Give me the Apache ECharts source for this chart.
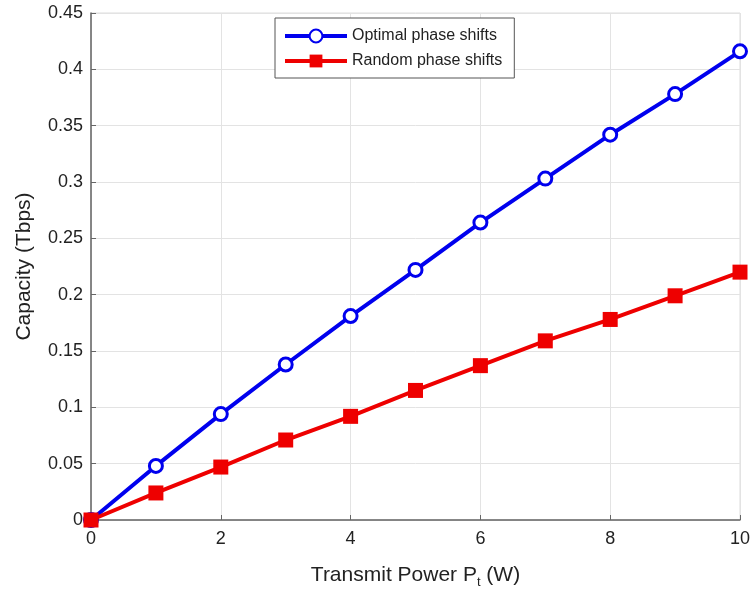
<!DOCTYPE html>
<html>
<head>
<meta charset="utf-8">
<script src="https://cdn.jsdelivr.net/npm/echarts@6/dist/echarts.min.js"></script>
<style>
  html, body { margin: 0; padding: 0; background: #fff; }
  #chart { width: 751px; height: 590px; }
</style>
</head>
<body>
<div id="chart"></div>
<script>
// transmit power (W)
const power = [0, 1, 2, 3, 4, 5, 6, 7, 8, 9, 10]
// capacity (Tbps)
const optimalCap = [0, 0.048, 0.094, 0.138, 0.181, 0.222, 0.264, 0.303, 0.342, 0.378, 0.416]
const randomCap = [0, 0.024, 0.047, 0.071, 0.092, 0.115, 0.137, 0.159, 0.178, 0.199, 0.220]

const chart = echarts.init(document.getElementById('chart'))

const font = 'Liberation Sans, Arial, sans-serif'

chart.setOption({
  animation: false,
  grid: {
    left: 91,
    right: 11,
    top: 13,
    bottom: 70,
    outerBoundsMode: 'none',
    show: true,
    borderColor: '#dcdcdc',
    borderWidth: 1,
  },
  legend: {
    left: 275,
    top: 18,
    orient: 'vertical',
    itemWidth: 62,
    itemHeight: 16,
    itemGap: 9,
    padding: [10, 12, 9, 8],
    borderColor: '#555',
    borderWidth: 1,
    backgroundColor: '#fff',
    lineStyle: { width: 4 },
    textStyle: { fontFamily: font, fontSize: 16, color: '#222' },
    data: ['Optimal phase shifts', 'Random phase shifts'],
  },
  xAxis: {
    type: 'value',
    min: 0,
    max: 10,
    interval: 2,
    name: '{a|Transmit Power P}{s|t}{a| (W)}',
    nameLocation: 'middle',
    nameGap: 42,
    nameTextStyle: {
      rich: {
        a: { fontFamily: font, fontSize: 21, color: '#222' },
        s: { fontFamily: font, fontSize: 13, color: '#222', padding: [14, 0, 0, 0] },
      },
    },
    axisLine: { show: true, lineStyle: { color: '#666', width: 1.5 } },
    axisTick: { show: true, inside: true, length: 5, lineStyle: { color: '#666' } },
    axisLabel: { fontFamily: font, fontSize: 18, color: '#222', margin: 10 },
    splitLine: { show: true, lineStyle: { color: '#e3e3e3', width: 1 } },
  },
  yAxis: {
    type: 'value',
    min: 0,
    max: 0.45,
    interval: 0.05,
    name: 'Capacity (Tbps)',
    nameLocation: 'middle',
    nameGap: 56,
    nameTextStyle: { fontFamily: font, fontSize: 21, color: '#222' },
    axisLine: { show: true, lineStyle: { color: '#666', width: 1.5 } },
    axisTick: { show: true, inside: true, length: 5, lineStyle: { color: '#666' } },
    axisLabel: {
      fontFamily: font,
      fontSize: 18,
      color: '#222',
      margin: 8,
      formatter: (v) => String(+v.toFixed(2)),
    },
    splitLine: { show: true, lineStyle: { color: '#e3e3e3', width: 1 } },
  },
  series: [
    {
      name: 'Optimal phase shifts',
      type: 'line',
      data: power.map((p, i) => [p, optimalCap[i]]),
      symbol: 'circle',
      symbolSize: 13,
      lineStyle: { color: '#0000ee', width: 4 },
      itemStyle: { color: '#fff', borderColor: '#0000ee', borderWidth: 3 },
      z: 2,
    },
    {
      name: 'Random phase shifts',
      type: 'line',
      data: power.map((p, i) => [p, randomCap[i]]),
      symbol: 'rect',
      symbolSize: 15,
      lineStyle: { color: '#ee0000', width: 4 },
      itemStyle: { color: '#ee0000', borderColor: '#ee0000', borderWidth: 0 },
      z: 3,
    },
  ],
})
</script>
</body>
</html>
